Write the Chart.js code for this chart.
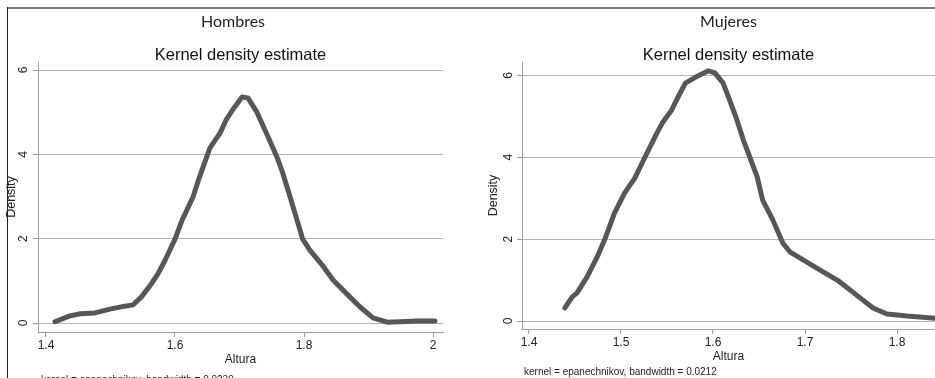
<!DOCTYPE html>
<html>
<head>
<meta charset="utf-8">
<script src="https://cdn.jsdelivr.net/npm/chart.js@4.4.1/dist/chart.umd.min.js"></script>
<style>
  html, body { margin: 0; padding: 0; background: #fff; }
  body { width: 935px; height: 378px; position: relative; overflow: hidden; }
  canvas { position: absolute; top: 0; }
  #c1 { left: 0; }
  #c2 { left: 466px; }
  .frameTop { position: absolute; left: 7px; right: 0; top: 7px; height: 0; border-top: 2px solid #7a7a7a; }
  .frameLeft { position: absolute; left: 7px; top: 7px; bottom: 0; width: 0; border-left: 1px solid #222; }
  .note { position: absolute; font: 10px "Liberation Sans", Arial, sans-serif; line-height: 12px; color: #222; white-space: nowrap; }
</style>
</head>
<body>
<canvas id="c1" width="466" height="378"></canvas>
<canvas id="c2" width="469" height="378"></canvas>
<div class="frameTop"></div>
<div class="frameLeft"></div>
<div class="note" style="left:41px; top:374px;">kernel = epanechnikov, bandwidth = 0.0239</div>
<div class="note" style="left:524px; top:366px;">kernel = epanechnikov, bandwidth = 0.0212</div>
<script>
// Hombres - estimated kernel density of height (Altura)
const hombresX = [1.414, 1.437, 1.453, 1.476, 1.499, 1.522, 1.535, 1.548, 1.562, 1.574, 1.585, 1.600,
  1.611, 1.628, 1.637, 1.654, 1.670, 1.679, 1.690, 1.704, 1.713, 1.727, 1.743, 1.758, 1.767, 1.778,
  1.798, 1.809, 1.828, 1.845, 1.871, 1.887, 1.907, 1.929, 1.949, 1.975, 2.003];
const hombresY = [0.03, 0.17, 0.22, 0.24, 0.33, 0.40, 0.43, 0.62, 0.90, 1.18, 1.50, 1.99,
  2.44, 2.99, 3.42, 4.15, 4.51, 4.81, 5.07, 5.36, 5.34, 5.00, 4.46, 3.94, 3.56, 3.01,
  1.99, 1.73, 1.38, 1.02, 0.62, 0.38, 0.12, 0.02, 0.03, 0.05, 0.05];

// Mujeres
const mujeresX = [1.439, 1.447, 1.452, 1.463, 1.474, 1.483, 1.493, 1.504, 1.515, 1.526, 1.539, 1.545,
  1.555, 1.562, 1.570, 1.583, 1.595, 1.602, 1.611, 1.618, 1.626, 1.633, 1.640, 1.648, 1.654, 1.665,
  1.676, 1.684, 1.702, 1.716, 1.735, 1.749, 1.763, 1.774, 1.789, 1.811, 1.841, 1.858];
const mujeresY = [0.32, 0.59, 0.68, 1.07, 1.56, 2.03, 2.64, 3.13, 3.49, 4.00, 4.59, 4.84,
  5.15, 5.47, 5.81, 5.98, 6.11, 6.06, 5.81, 5.40, 4.91, 4.42, 4.00, 3.52, 2.95, 2.47,
  1.90, 1.68, 1.44, 1.25, 1.00, 0.76, 0.51, 0.32, 0.17, 0.12, 0.07, 0.06];

const hombresXTicks = [1.4, 1.6, 1.8, 2];
const hombresXLabels = ['1.4', '1.6', '1.8', '2'];
const mujeresXTicks = [1.4, 1.5, 1.6, 1.7, 1.8];
const mujeresXLabels = ['1.4', '1.5', '1.6', '1.7', '1.8'];
const yTicks = [0, 2, 4, 6];
const yLabels = ['0', '2', '4', '6'];

const sans = '"Liberation Sans", Arial, sans-serif';

const makeChart = (id, o) => {
  const ctx = document.getElementById(id).getContext('2d');
  const scales = {
    x: {
      type: 'linear',
      min: o.xMin,
      max: o.xMax,
      afterFit: s => { s.height = o.xHeight; },
      afterBuildTicks: s => { s.ticks = o.xTicks.map(v => ({ value: v })); },
      ticks: {
        autoSkip: false, maxRotation: 0, padding: 1.8, color: '#222',
        font: { family: sans, size: 12 },
        callback: (v, i) => o.xLabels[i]
      },
      grid: { drawOnChartArea: false, tickLength: 5, tickColor: '#9a9a9a' },
      border: { display: true, color: '#a0a0a0', width: 1 },
      title: {
        display: true, text: 'Altura', color: '#222',
        font: { family: sans, size: 12, lineHeight: 1.2 },
        padding: { top: 0, bottom: o.altPad }
      }
    },
    y: {
      type: 'linear',
      min: o.yMin,
      max: o.yMax,
      afterFit: s => { s.width = o.yWidth; },
      afterBuildTicks: s => { s.ticks = yTicks.map(v => ({ value: v })); },
      ticks: {
        autoSkip: false, minRotation: 90, maxRotation: 90, crossAlign: 'center',
        padding: o.yTickPad, color: '#222',
        font: { family: sans, size: 12 },
        callback: (v, i) => yLabels[i]
      },
      grid: { color: '#b4b4b4', lineWidth: 1, tickLength: 5, tickColor: '#9a9a9a' },
      border: { display: true, color: '#a0a0a0', width: 1 },
      title: {
        display: true, text: 'Density', color: '#222',
        font: { family: sans, size: 12.5, lineHeight: 1.2 },
        padding: { top: o.densPad, bottom: 0 }
      }
    }
  };
  // empty space to the right of the plot region (keeps the graph title centred on the whole panel)
  if (o.rightGap) {
    scales.yRight = {
      type: 'linear', position: 'right', display: true,
      afterFit: s => { s.width = o.rightGap; },
      ticks: { display: false },
      grid: { display: false },
      border: { display: false }
    };
  }
  return new Chart(ctx, {
    type: 'scatter',
    data: {
      datasets: [{
        data: o.xs.map((v, i) => ({ x: v, y: o.ys[i] })),
        showLine: true,
        borderColor: '#575757',
        borderWidth: 5,
        pointRadius: 0,
        tension: 0,
        borderCapStyle: 'round',
        borderJoinStyle: 'round',
        fill: false
      }]
    },
    options: {
      responsive: false,
      animation: false,
      layout: { padding: 0 },
      plugins: {
        legend: { display: false },
        tooltip: { enabled: false },
        title: {
          display: true,
          text: o.title,
          fullSize: o.titleFull,
          color: '#222',
          font: { family: 'Lato', size: 16, weight: 'normal', lineHeight: 1.2 },
          padding: { top: 12.4, bottom: 16.4 }
        },
        subtitle: {
          display: true,
          text: 'Kernel density estimate',
          fullSize: false,
          color: '#111',
          font: { family: sans, size: 16.5, weight: 'normal', lineHeight: 0.85 },
          padding: { top: 0, bottom: 0 }
        }
      },
      scales: scales
    }
  });
};

makeChart('c1', {
  title: 'Hombres', titleFull: true,
  xs: hombresX, ys: hombresY,
  xMin: 1.3876, xMax: 2.0155, xTicks: hombresXTicks, xLabels: hombresXLabels,
  yMin: -0.213, yMax: 6.19,
  xHeight: 46, yWidth: 38, yTickPad: 6.4, densPad: 4.2, altPad: 11.5, rightGap: 23
});

makeChart('c2', {
  title: 'Mujeres', titleFull: false,
  xs: mujeresX, ys: mujeresY,
  xMin: 1.3924, xMax: 1.8413, xTicks: mujeresXTicks, xLabels: mujeresXLabels,
  yMin: -0.195, yMax: 6.325,
  xHeight: 49, yWidth: 56, yTickPad: 5.4, densPad: 20.2, altPad: 13.8, rightGap: 0
});
</script>
</body>
</html>
